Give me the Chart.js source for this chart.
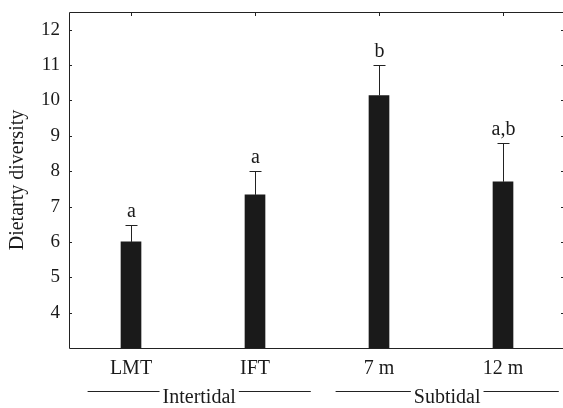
<!DOCTYPE html>
<html>
<head>
<meta charset="utf-8">
<script src="https://cdn.jsdelivr.net/npm/chart.js@4"></script>
<style>
  html, body { margin: 0; padding: 0; background: #fff; overflow: hidden; }
  #wrap { width: 568px; height: 408px; }
</style>
</head>
<body>
<div id="wrap"><canvas id="myChart"></canvas></div>
<script>
// data
var categories = ['LMT', 'IFT', '7 m', '12 m'];
var means = [6.0, 7.33, 10.14, 7.70];
var errs = [0.47, 0.67, 0.86, 1.10];
var letters = ['a', 'a', 'b', 'a,b'];
var groupNames = ['Intertidal', 'Subtidal'];
var groupFirst = [0, 2];
var groupLast = [1, 3];
var yTicks = [4, 5, 6, 7, 8, 9, 10, 11, 12];

var serif = "'Liberation Serif', 'Times New Roman', serif";
var ink = '#1a1a1a';

var extras = {
  id: 'extras',
  afterDatasetsDraw: function(chart) {
    var ctx = chart.ctx;
    var x = chart.scales.x, y = chart.scales.y;
    var a = chart.chartArea;
    ctx.save();
    ctx.strokeStyle = '#222';
    ctx.lineWidth = 1;

    // frame (right edge falls just outside the window)
    ctx.beginPath();
    ctx.moveTo(a.right, a.top + 0.5);
    ctx.lineTo(a.left + 0.5, a.top + 0.5);
    ctx.lineTo(a.left + 0.5, a.bottom + 0.5);
    ctx.lineTo(a.right, a.bottom + 0.5);
    ctx.stroke();

    // inward ticks
    ctx.beginPath();
    yTicks.forEach(function(v) {
      var py = Math.round(y.getPixelForValue(v)) + 0.5;
      ctx.moveTo(a.left, py); ctx.lineTo(a.left + 3, py);
      ctx.moveTo(a.right, py); ctx.lineTo(a.right - 4, py);
    });
    categories.forEach(function(c, i) {
      var px = Math.round(x.getPixelForValue(i)) + 0.5;
      ctx.moveTo(px, a.top); ctx.lineTo(px, a.top + 4);
    });
    ctx.stroke();

    // error bars + letters
    ctx.fillStyle = ink;
    ctx.font = '20px ' + serif;
    ctx.textAlign = 'center';
    ctx.textBaseline = 'alphabetic';
    means.forEach(function(m, i) {
      var px = Math.round(x.getPixelForValue(i)) + 0.5;
      var y0 = y.getPixelForValue(m);
      var y1 = Math.round(y.getPixelForValue(m + errs[i])) + 0.5;
      ctx.beginPath();
      ctx.moveTo(px, y0); ctx.lineTo(px, y1);
      ctx.moveTo(px - 6, y1); ctx.lineTo(px + 6, y1);
      ctx.stroke();
      ctx.fillText(letters[i], px, y1 - 9);
    });

    // group labels under the axis
    var w = x.getPixelForValue(1) - x.getPixelForValue(0);
    var ly = 391.5;
    groupNames.forEach(function(g, k) {
      var x0 = x.getPixelForValue(groupFirst[k]) - 0.35 * w;
      var x1 = x.getPixelForValue(groupLast[k]) + 0.45 * w;
      var cx = (x0 + x1) / 2;
      var tw = ctx.measureText(g).width;
      ctx.beginPath();
      ctx.moveTo(x0, ly); ctx.lineTo(cx - tw / 2 - 3, ly);
      ctx.moveTo(cx + tw / 2 + 3, ly); ctx.lineTo(x1, ly);
      ctx.stroke();
      ctx.fillText(g, cx, 403);
    });
    ctx.restore();
  }
};

var ctx = document.getElementById('myChart').getContext('2d');
var myChart = new Chart(ctx, {
  type: 'bar',
  data: {
    labels: categories,
    datasets: [{
      label: 'Dietary diversity',
      data: means,
      backgroundColor: ink,
      borderWidth: 0,
      barThickness: 20
    }]
  },
  options: {
    responsive: true,
    maintainAspectRatio: false,
    animation: false,
    layout: { padding: { top: 12, right: 3, left: 0, bottom: 0 } },
    plugins: { legend: { display: false }, tooltip: { enabled: false } },
    scales: {
      x: {
        grid: { display: false, drawTicks: false },
        border: { display: false },
        ticks: { color: ink, font: { family: serif, size: 20 }, padding: 9 },
        afterFit: function(s) { s.height = 60; s.paddingLeft = 0; s.paddingRight = 0; }
      },
      y: {
        min: 3,
        max: 12.5,
        grid: { display: false, drawTicks: false },
        border: { display: false },
        afterBuildTicks: function(s) {
          s.ticks = yTicks.map(function(v) { return { value: v }; });
        },
        ticks: { color: ink, font: { family: serif, size: 19 }, padding: 9 },
        title: {
          display: true,
          text: 'Dietarty diversity',
          color: ink,
          font: { family: serif, size: 20 },
          padding: { top: 6, bottom: 0 }
        },
        afterFit: function(s) { s.width = 69; s.paddingTop = 0; s.paddingBottom = 0; }
      }
    }
  },
  plugins: [extras]
});
</script>
</body>
</html>
